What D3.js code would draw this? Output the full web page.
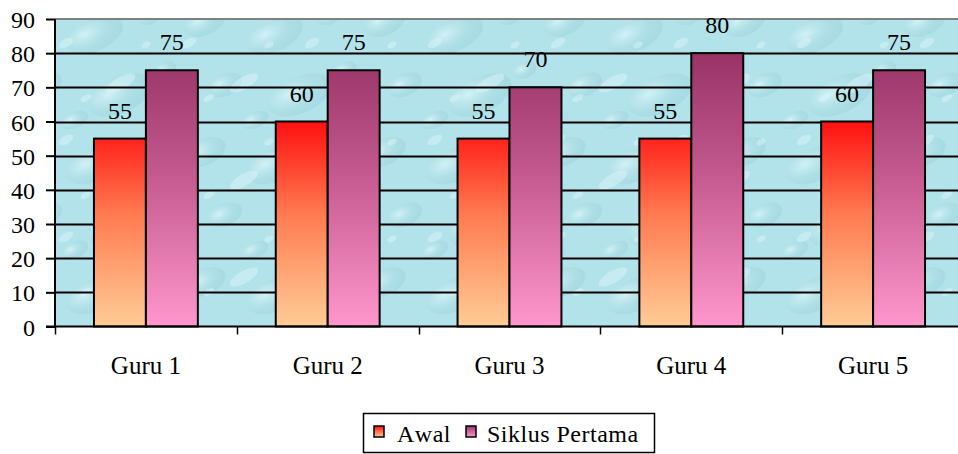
<!DOCTYPE html>
<html>
<head>
<meta charset="utf-8">
<script src="https://cdn.jsdelivr.net/npm/d3@7"></script>
<style>
  html, body { margin: 0; padding: 0; background: #fff; }
  svg { display: block; }
</style>
</head>
<body>
<svg id="chart" width="958" height="454"></svg>
<script>
const categories = ["Guru 1", "Guru 2", "Guru 3", "Guru 4", "Guru 5"];
const seriesNames = ["Awal", "Siklus Pertama"];
const awal = [55, 60, 55, 55, 60];
const siklusPertama = [75, 75, 70, 80, 75];
const yTicks = [0, 10, 20, 30, 40, 50, 60, 70, 80, 90];

const FONT = "'Liberation Serif', 'Times New Roman', Times, serif";
const svg = d3.select("#chart");
const W = 958, H = 454;
const plot = { left: 55, right: 964, top: 19, bottom: 326.5 };

const x = d3.scaleBand().domain(categories).range([plot.left, plot.right]).paddingInner(0).paddingOuter(0);
const xs = d3.scaleBand().domain(seriesNames).range([0, x.bandwidth()]).paddingInner(0).paddingOuter(0.75);
const y = d3.scaleLinear().domain([0, 90]).range([plot.bottom, plot.top]);

const defs = svg.append("defs");
function vgrad(id, top, bottom) {
  const g = defs.append("linearGradient").attr("id", id).attr("x1", 0).attr("y1", 0).attr("x2", 0).attr("y2", 1);
  g.append("stop").attr("offset", "0%").attr("stop-color", top);
  g.append("stop").attr("offset", "100%").attr("stop-color", bottom);
}
vgrad("gAwal", "#ff0d0d", "#ffcc99");
vgrad("gSiklus", "#993366", "#ff99cc");
function vgradAbs(id, top, mid, bottom, y1, y2) {
  const g = defs.append("linearGradient").attr("id", id).attr("gradientUnits", "userSpaceOnUse")
    .attr("x1", 0).attr("y1", y1).attr("x2", 0).attr("y2", y2);
  g.append("stop").attr("offset", "0%").attr("stop-color", top);
  g.append("stop").attr("offset", "45%").attr("stop-color", mid);
  g.append("stop").attr("offset", "100%").attr("stop-color", bottom);
}

// background water texture (subtle)
const pat = defs.append("pattern").attr("id", "water").attr("patternUnits", "userSpaceOnUse")
  .attr("width", 180).attr("height", 130);
pat.append("rect").attr("width", 180).attr("height", 130).attr("fill", "#b2e3ea");
const rg = defs.append("radialGradient").attr("id", "drop").attr("cx", "35%").attr("cy", "35%").attr("r", "65%");
rg.append("stop").attr("offset", "0%").attr("stop-color", "#d9f6f9").attr("stop-opacity", 0.8);
rg.append("stop").attr("offset", "70%").attr("stop-color", "#a5d8e0").attr("stop-opacity", 0.45);
rg.append("stop").attr("offset", "100%").attr("stop-color", "#94ccd6").attr("stop-opacity", 0.35);
const drops = [[25,22,22,13],[95,35,30,16],[150,15,14,9],[45,85,18,11],[120,95,34,18],[165,70,12,8],[10,118,10,7],[75,120,14,8]];
drops.forEach(d => pat.append("ellipse").attr("cx", d[0]).attr("cy", d[1]).attr("rx", d[2]).attr("ry", d[3])
  .attr("fill", "url(#drop)").attr("transform", `rotate(-25 ${d[0]} ${d[1]})`));
const pat2 = defs.append("pattern").attr("id", "water2").attr("patternUnits", "userSpaceOnUse")
  .attr("width", 123).attr("height", 97).attr("x", 41).attr("y", 23);
[[25,20,8,4],[80,60,16,6],[45,75,6,3],[105,22,5,3]].forEach(d => pat2.append("ellipse").attr("cx", d[0]).attr("cy", d[1])
  .attr("rx", d[2]).attr("ry", d[3]).attr("fill", "#dff7fa").attr("opacity", 0.45)
  .attr("transform", `rotate(-30 ${d[0]} ${d[1]})`));

svg.append("rect").attr("x", plot.left).attr("y", plot.top).attr("width", W - plot.left).attr("height", plot.bottom - plot.top)
  .attr("fill", "url(#water)");
svg.append("rect").attr("x", plot.left).attr("y", plot.top).attr("width", W - plot.left).attr("height", plot.bottom - plot.top)
  .attr("fill", "url(#water2)");

// top grey border
svg.append("line").attr("x1", plot.left).attr("x2", W).attr("y1", plot.top).attr("y2", plot.top)
  .attr("stroke", "#808080").attr("stroke-width", 2);

// gridlines
svg.append("g").selectAll("line").data(yTicks.filter(t => t > 0 && t < 90)).join("line")
  .attr("x1", plot.left).attr("x2", W).attr("y1", d => Math.round(y(d)) + 0.5).attr("y2", d => Math.round(y(d)) + 0.5)
  .attr("stroke", "#000").attr("stroke-width", 2);

vgradAbs("bAwal", "#ff1010", "#ff7a50", "#ffcc96", y(60), y(0));
vgradAbs("bSiklus", "#993366", "#c45a90", "#ff96cc", y(80), y(0));

const data = categories.map((c, i) => ({ cat: c, vals: [{ s: "Awal", v: awal[i] }, { s: "Siklus Pertama", v: siklusPertama[i] }] }));
const groups = svg.append("g").selectAll("g").data(data).join("g")
  .attr("transform", d => `translate(${x(d.cat)},0)`);
groups.selectAll("rect").data(d => d.vals).join("rect")
  .attr("x", d => xs(d.s))
  .attr("y", d => y(d.v))
  .attr("width", xs.bandwidth())
  .attr("height", d => y(0) - y(d.v))
  .attr("fill", d => d.s === "Awal" ? "url(#bAwal)" : "url(#bSiklus)")
  .attr("stroke", "#000").attr("stroke-width", 2);
groups.selectAll("text").data(d => d.vals).join("text")
  .attr("x", d => xs(d.s) + xs.bandwidth() / 2)
  .attr("y", d => y(d.v) - 20)
  .attr("text-anchor", "middle")
  .style("font-family", FONT).style("font-size", "24px").style("fill", "#000")
  .text(d => d.v);

// y axis
const yAxis = d3.axisLeft(y).tickValues(yTicks).tickSize(9).tickPadding(11).tickFormat(d3.format("d"));
const gy = svg.append("g").attr("transform", `translate(${plot.left},0)`).call(yAxis);
gy.select(".domain").attr("stroke", "#000").attr("stroke-width", 2).attr("d", `M0,${plot.top}V${plot.bottom + 1}`);
gy.selectAll(".tick line").attr("stroke", "#000").attr("stroke-width", 2);
gy.selectAll(".tick text").style("font-family", FONT).style("font-size", "24px").style("fill", "#000").attr("dy", "0.36em");

// x axis
const gx = svg.append("g").attr("transform", `translate(0,${plot.bottom})`);
gx.append("line").attr("x1", plot.left - 9).attr("x2", W).attr("y1", 0).attr("y2", 0).attr("stroke", "#000").attr("stroke-width", 2);
const bounds = categories.map(c => x(c)).concat([x(categories[categories.length - 1]) + x.bandwidth()]).filter(v => v <= W);
gx.selectAll("line.t").data(bounds).join("line").attr("class", "t")
  .attr("x1", d => Math.round(d) + 0.5).attr("x2", d => Math.round(d) + 0.5).attr("y1", 0).attr("y2", 8)
  .attr("stroke", "#000").attr("stroke-width", 1.5);
gx.selectAll("text").data(categories).join("text")
  .attr("x", d => x(d) + x.bandwidth() / 2)
  .attr("y", 47)
  .attr("text-anchor", "middle")
  .style("font-family", FONT).style("font-size", "25px").style("fill", "#000")
  .text(d => d);

// legend
const lg = svg.append("g");
lg.append("rect").attr("x", 363.5).attr("y", 413.5).attr("width", 291).attr("height", 39)
  .attr("fill", "#fff").attr("stroke", "#000").attr("stroke-width", 1.5);
const legItems = [{ name: seriesNames[0], fill: "url(#gAwal)", sx: 374, tx: 397, ls: 0.5 },
                  { name: seriesNames[1], fill: "url(#gSiklus)", sx: 466, tx: 487, ls: 0.5 }];
legItems.forEach(it => {
  lg.append("rect").attr("x", it.sx).attr("y", 426).attr("width", 10).attr("height", 11)
    .attr("fill", it.fill).attr("stroke", "#000").attr("stroke-width", 1.5);
  lg.append("text").attr("x", it.tx).attr("y", 442)
    .style("font-family", FONT).style("font-size", "24px").style("fill", "#000")
    .style("font-kerning", "none")
    .style("letter-spacing", it.ls + "px").text(it.name);
});
</script>
</body>
</html>
